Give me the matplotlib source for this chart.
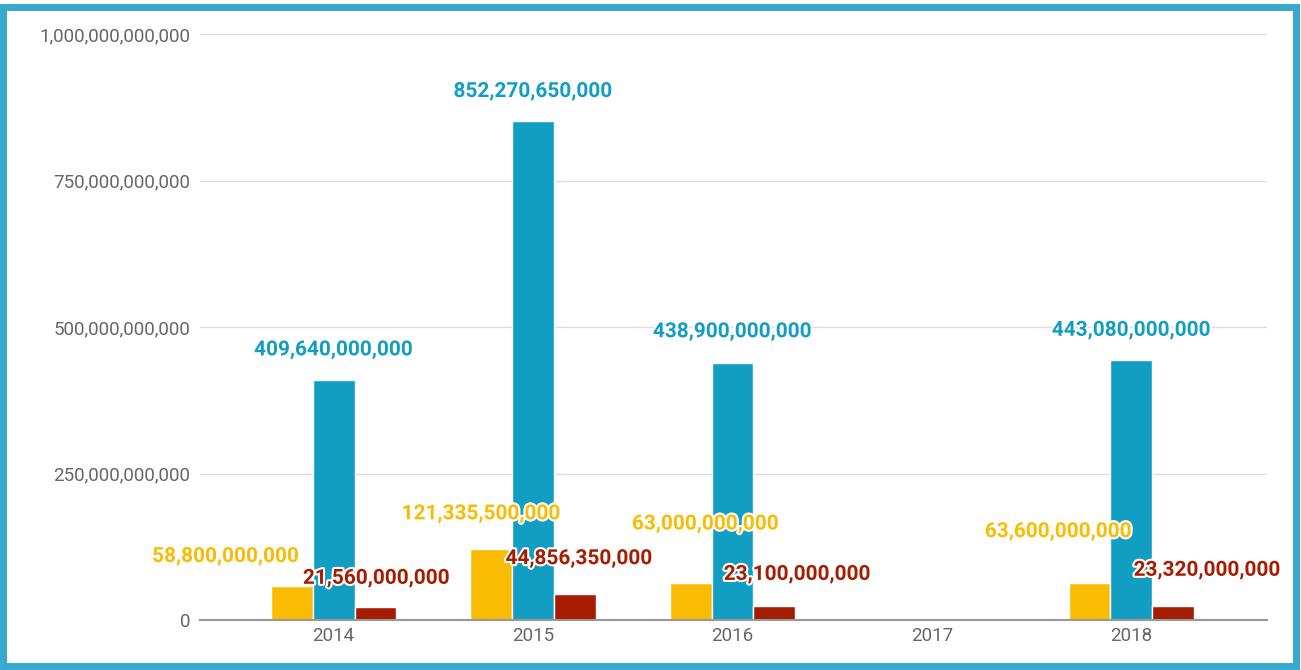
import numpy as np
import matplotlib.pyplot as plt
import matplotlib.patheffects as pe
from matplotlib.patches import Rectangle
from matplotlib.ticker import FuncFormatter

years = ["2014", "2015", "2016", "2017", "2018"]
yellow_vals = [58_800_000_000, 121_335_500_000, 63_000_000_000, np.nan, 63_600_000_000]
blue_vals = [409_640_000_000, 852_270_650_000, 438_900_000_000, np.nan, 443_080_000_000]
red_vals = [21_560_000_000, 44_856_350_000, 23_100_000_000, np.nan, 23_320_000_000]

YELLOW = "#F9BC02"
BLUE = "#129EC2"
RED = "#A61C00"

# label offsets (dx, dy) in pixels relative to the top centre of each bar
yellow_offsets = [(-66, 29), (-10, 35), (15, 59), (0, 0), (-31, 51)]
blue_offsets = [(0, 30), (0, 29), (0, 31), (0, 0), (0, 30)]
red_offsets = [(1, 29), (4, 35), (23, 32), (0, 0), (34, 36)]

plt.rcParams["font.family"] = ["Roboto", "DejaVu Sans"]

fig = plt.figure(figsize=(13.01, 6.70), dpi=100)
ax = fig.add_axes([200 / 1301, 50 / 670, 1067 / 1301, 586 / 670])

x = np.arange(len(years))
w = 0.21
groups = [
    (yellow_vals, -w, YELLOW, yellow_offsets),
    (blue_vals, 0, BLUE, blue_offsets),
    (red_vals, w, RED, red_offsets),
]
halo = [pe.withStroke(linewidth=3, foreground="white")]
for vals, shift, color, offsets in groups:
    ax.bar(x + shift, vals, width=w, color=color, edgecolor="white", linewidth=1, zorder=3)
    for xi, v, (dx, dy) in zip(x + shift, vals, offsets):
        if np.isnan(v):
            continue
        ax.annotate(f"{int(v):,}", (xi, v), xytext=(dx, dy), textcoords="offset pixels",
                    ha="center", va="center", fontsize=15, fontweight="bold",
                    color=color, path_effects=halo, zorder=5)

ax.set_xlim(-0.67, 4.68)
ax.set_ylim(0, 1e12)
ax.set_yticks(np.arange(0, 1.01e12, 250e9))
ax.yaxis.set_major_formatter(FuncFormatter(lambda v, p: f"{int(v):,}"))
ax.set_xticks(x)
ax.set_xticklabels(years)
ax.tick_params(axis="both", length=0, colors="#666666", labelsize=13.5)
ax.tick_params(axis="y", pad=7)
ax.tick_params(axis="x", pad=5)
ax.grid(axis="y", color="#DDDDDD", linewidth=1, zorder=0)
for s in ["top", "right", "left"]:
    ax.spines[s].set_visible(False)
ax.spines["bottom"].set_color("#999999")
ax.spines["bottom"].set_linewidth(1.5)
ax.spines["bottom"].set_zorder(4)

fig.patches.append(Rectangle((3 / 1301, 4 / 670), 1293 / 1301, 659 / 670,
                             transform=fig.transFigure, fill=False,
                             edgecolor="#36A9CC", linewidth=5))

fig.savefig("out.png", dpi=100)
